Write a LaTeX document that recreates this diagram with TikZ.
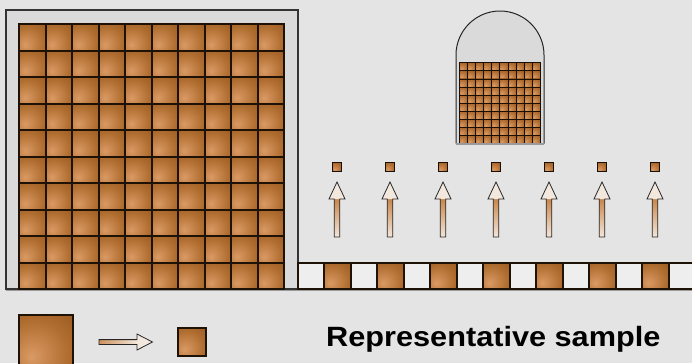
\documentclass[tikz,border=0pt]{standalone}
\usepackage{fontspec}
\setmainfont{Liberation Sans}
\definecolor{bg}{HTML}{E4E4E4}
\definecolor{framefill}{HTML}{DADADA}
\definecolor{frameline}{HTML}{333333}
\definecolor{cellL}{HTML}{DA9A64}
\definecolor{cellM}{HTML}{B06D30}
\definecolor{cellD}{HTML}{8C4E17}
\definecolor{celledge}{HTML}{1E1206}
\definecolor{stripwhite}{HTML}{EEEEEE}
\definecolor{shadow}{HTML}{9A9A9A}
\definecolor{arrowtop}{HTML}{F3E6DA}
\definecolor{arrowbot}{HTML}{C8864C}
\definecolor{arrowhead}{HTML}{F3E8DE}
\pgfdeclareradialshading{cellshade}{\pgfpoint{-14bp}{-14bp}}{color(0bp)=(cellL); color(30bp)=(cellM); color(58bp)=(cellD); color(100bp)=(cellD)}
\begin{document}
\begin{tikzpicture}[x=1bp,y=-1bp,
  cellfill/.style={shading=cellshade},
  celldraw/.style={draw=celledge, line width=1.6bp},
  smalldraw/.style={draw=celledge!85!black, line width=0.8bp},
  whitecell/.style={fill=stripwhite},
  arrowline/.style={draw=black!85, line width=0.8bp, line join=miter}]
\useasboundingbox (0,0) rectangle (692,363);
\fill[bg] (0,0) rectangle (692,363);
\clip (0,0) rectangle (692,363);
% shadow line under frame and strip
\draw[shadow, line width=1.6bp] (6,290.5) -- (692,290.5);
% big frame
\draw[fill=framefill, draw=frameline, line width=1.5bp] (6,10) rectangle (298,289);
% big grid (cell edges snapped to whole pixels)
\foreach \i in {0,...,9}{
  \pgfmathtruncatemacro{\xa}{round(19+\i*26.5)}
  \pgfmathtruncatemacro{\xb}{round(19+(\i+1)*26.5)}
  \foreach \j in {0,...,9}{
    \pgfmathtruncatemacro{\ya}{round(24+\j*26.5)}
    \pgfmathtruncatemacro{\yb}{round(24+(\j+1)*26.5)}
    \shade[cellfill] (\xa,\ya) rectangle (\xb,\yb);
  }
}
\foreach \i in {0,...,9}{
  \pgfmathtruncatemacro{\xa}{round(19+\i*26.5)}
  \pgfmathtruncatemacro{\xb}{round(19+(\i+1)*26.5)}
  \foreach \j in {0,...,9}{
    \pgfmathtruncatemacro{\ya}{round(24+\j*26.5)}
    \pgfmathtruncatemacro{\yb}{round(24+(\j+1)*26.5)}
    \draw[celldraw] (\xa,\ya) rectangle (\xb,\yb);
  }
}
% bottom strip
\foreach \k in {0,...,14}{
  \pgfmathtruncatemacro{\odd}{mod(\k,2)}
  \pgfmathtruncatemacro{\xa}{round(297.6+\k*26.5)}
  \pgfmathtruncatemacro{\xb}{round(297.6+(\k+1)*26.5)}
  \ifnum\odd=0
    \fill[whitecell] (\xa,263) rectangle (\xb,289);
  \else
    \shade[cellfill] (\xa,263) rectangle (\xb,289);
  \fi
}
\foreach \k in {0,...,14}{
  \pgfmathtruncatemacro{\xa}{round(297.6+\k*26.5)}
  \pgfmathtruncatemacro{\xb}{round(297.6+(\k+1)*26.5)}
  \draw[celldraw] (\xa,263) rectangle (\xb,289);
}
% dome
\fill[framefill] (456,143.5) -- (456,55) arc[start angle=180, end angle=360, radius=44] -- (544,143.5) -- cycle;
\foreach \i in {0,...,9}{
  \foreach \j in {0,...,9}{
    \shade[cellfill] ({459.5+\i*8.07},{62.8+\j*8.07}) rectangle ++(8.07,8.07);
  }
}
\foreach \i in {0,...,9}{
  \foreach \j in {0,...,9}{
    \draw[smalldraw] ({459.5+\i*8.07},{62.8+\j*8.07}) rectangle ++(8.07,8.07);
  }
}
\draw[black!85, line width=1bp] (456,143.5) -- (456,55) arc[start angle=180, end angle=360, radius=44] -- (544,143.5);
\draw[shadow, line width=1.4bp] (456,144) -- (544,144);
% samples and arrows
\foreach \k in {0,...,6}{
  \pgfmathsetmacro{\c}{337+53*\k}
  \shade[cellfill] ({\c-4.5},162.5) rectangle ++(9,9);
  \draw[smalldraw, line width=0.9bp] ({\c-4.5},162.5) rectangle ++(9,9);
  \shade[top color=arrowbot, bottom color=arrowtop] ({\c-2.8},199) rectangle ({\c+2.8},237);
  \fill[arrowhead] ({\c-8},199) -- ({\c},182) -- ({\c+8},199) -- cycle;
  \draw[arrowline] ({\c-2.8},237) -- ({\c-2.8},199) -- ({\c-8},199) -- ({\c},182) -- ({\c+8},199) -- ({\c+2.8},199) -- ({\c+2.8},237) -- cycle;
}
% legend
\shade[cellfill] (19,315) rectangle (73,369);
\draw[celldraw] (19,315) rectangle (73,369);
\shade[left color=arrowbot!90, right color=arrowtop] (99,339.6) rectangle (137,344.4);
\fill[arrowhead] (137,334) -- (152.5,342) -- (137,350) -- cycle;
\draw[arrowline] (99,339.6) -- (137,339.6) -- (137,334) -- (152.5,342) -- (137,350) -- (137,344.4) -- (99,344.4) -- cycle;
\shade[cellfill] (178,328) rectangle (206,356);
\draw[celldraw] (178,328) rectangle (206,356);
\node[anchor=base west, inner sep=0pt] (lbl) at (326,346.7) {\scalebox{1.1}[1]{\fontsize{28}{30}\selectfont\bfseries Representative sample}};
\end{tikzpicture}
\end{document}
